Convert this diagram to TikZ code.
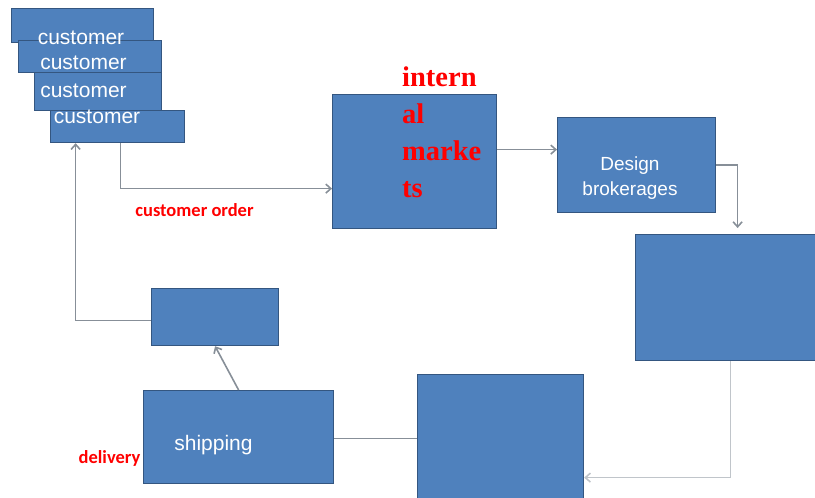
\documentclass[tikz,border=0pt]{standalone}
\usepackage{fontspec}
\setmainfont{Liberation Sans}
\newfontfamily\marketsfont{Liberation Serif}
\newfontfamily\labelfont{Carlito}
\usepackage{tikz}
\usetikzlibrary{arrows, arrows.meta}
\definecolor{boxblue}{RGB}{79,129,189}
\definecolor{boxborder}{RGB}{52,86,128}
\definecolor{arrowgray}{RGB}{135,143,152}
\definecolor{lightgray}{RGB}{192,197,202}
\tikzset{
	font={\upshape\selectfont}}
\tikzstyle{rect_blue} =  [rectangle, anchor=north west, inner sep=0pt, draw=boxborder, fill=boxblue, line width=1.2pt]
\tikzstyle{box_text} =  [text=white, inner sep=0pt, anchor=base, font=\fontsize{21}{25}\selectfont]
\tikzstyle{markets_text} =  [text=red, inner sep=0pt, anchor=north west, align=left, font=\marketsfont\bfseries\fontsize{28.5}{36.7}\selectfont]
\tikzstyle{red_label} =  [text=red, inner sep=0pt, anchor=base, font=\labelfont\bfseries\fontsize{18.5}{22}\selectfont]
\tikzstyle{arrow} = [line width=1.6pt, draw=arrowgray, ->, >={Straight Barb[length=5pt,width=9pt]}]
\tikzstyle{line} = [line width=1.6pt, draw=arrowgray, -]

\begin{document}
\begin{tikzpicture}[x=1pt, y=-1pt]
\useasboundingbox (0,0) rectangle (815,498);

% Kunden
\node[rect_blue, minimum width=142pt, minimum height=34pt] (customer1) at (11,8) {};
\node[rect_blue, minimum width=143pt, minimum height=32pt] (customer2) at (18,40) {};
\node[rect_blue, minimum width=127pt, minimum height=38pt] (customer3) at (34,72) {};
\node[rect_blue, minimum width=134pt, minimum height=32pt] (customer4) at (50,110) {};
\node[box_text] (customer1text) at (81,44) {customer};
\node[box_text] (customer2text) at (83.5,69) {customer};
\node[box_text] (customer3text) at (83.5,97) {customer};
\node[box_text] (customer4text) at (97,123) {customer};

\node[rect_blue, minimum width=164pt, minimum height=134pt] (markets) at (332,94) {};
\node[markets_text] (marketstext) at (402,67) {intern\\al\\marke\\ts};
\node[rect_blue, minimum width=158pt, minimum height=95pt] (brokerage) at (557,117) {};
\node[box_text, anchor=center, align=center, font=\fontsize{19}{25}\selectfont] (brokeragetext) at (630,177.7) {Design\\brokerages};
\node[rect_blue, minimum width=200pt, minimum height=126pt] (production) at (635,234) {};
\node[rect_blue, minimum width=166pt, minimum height=128pt] (assembly) at (417,374) {};
\node[rect_blue, minimum width=190pt, minimum height=93pt] (shipping) at (143,390) {};
\node[box_text] (shippingtext) at (213.5,450) {shipping};
\node[rect_blue, minimum width=127pt, minimum height=57pt] (stock) at (151,288) {};

% Beschriftungen
\node[red_label] (orderlabel) at (194.5,216) {customer order};
\node[red_label] (deliverylabel) at (109.5,463) {delivery};

\draw[arrow]([xshift=3pt]customer4.south) |- ([yshift=-27pt]markets.west);
\draw[arrow]([yshift=12pt]markets.east) -- ([yshift=15.5pt]brokerage.west);
\draw[arrow, shorten >=6pt](brokerage.east) -| ([xshift=2pt]production.north);
\draw[arrow, draw=lightgray]([xshift=-5pt]production.south) |- ([yshift=-39pt]assembly.east);
\draw[line](assembly.west) -- (assembly.west -| shipping.east);
\draw[arrow](shipping.north) -- (stock.south);
\draw[arrow]([yshift=-3.5pt]stock.west) -| ([xshift=-42pt]customer4.south);

\end{tikzpicture}
\end{document}
